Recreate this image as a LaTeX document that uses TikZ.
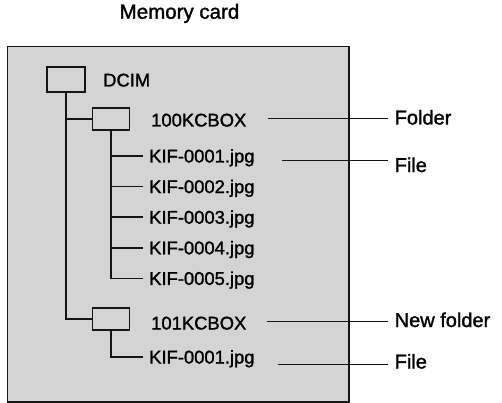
\documentclass[tikz,border=0pt]{standalone}
\usepackage{fontspec}
\setmainfont{Liberation Sans}[FakeBold=1.4]
\usepackage{tikz}
\usetikzlibrary{positioning, calc}
\definecolor{cardgray}{HTML}{D4D4D4}
\definecolor{inkblack}{HTML}{151515}

\begin{document}
\begin{tikzpicture}[x=1pt, y=-1pt,
    folderbox/.style={draw=inkblack, line width=1.7pt, minimum width=37pt, minimum height=22pt, inner sep=0pt},
    dirname/.style={anchor=west, inner sep=0pt, font=\fontsize{18.4}{20}\selectfont, text height=13pt, text depth=0pt},
    filename/.style={anchor=west, inner ysep=0pt, inner xsep=6pt, font=\fontsize{18.4}{20}\selectfont, text height=13pt, text depth=0pt},
    callout/.style={anchor=west, inner ysep=0pt, inner xsep=6.5pt, font=\fontsize{20}{22}\selectfont, text height=14pt, text depth=0pt},
    tree/.style={draw=inkblack, line width=1.7pt},
    pointer/.style={draw=inkblack, line width=0.9pt}]
  \useasboundingbox (0,0) rectangle (502,403);

  % Title and card
  \node[font=\fontsize{20.5}{22}\selectfont, inner sep=0pt, text height=14pt, text depth=0pt] (title) at (179.5,11.7) {Memory card};
  \draw[fill=cardgray, draw=inkblack, line width=1.5pt] (7.5,46.5) rectangle (349,402);

  % Folders
  \node[folderbox, minimum width=38pt, minimum height=25pt] (dcim) at (66,79.5) {};
  \node[dirname] (ndcim) at (103,80) {DCIM};
  \node[folderbox] (f100) at (111,119) {};
  \node[dirname] (n100) at (151,120) {100KCBOX};
  \node[folderbox] (f101) at (111,319) {};
  \node[dirname] (n101) at (151,323) {101KCBOX};

  % Files
  \foreach \i/\y in {1/156, 2/186.6, 3/217.2, 4/247.8, 5/278.4} {
    \node[filename] (k\i) at (143,\y) {KIF-000\i.jpg};
    \draw[tree] (f100.south) |- (k\i.west);
  }
  \node[filename] (kb1) at (143,357) {KIF-0001.jpg};

  % Tree lines
  \draw[tree] (dcim.south) |- (f100.west);
  \draw[tree] (dcim.south) |- (f101.west);
  \draw[tree] (f101.south) |- (kb1.west);

  % Callouts
  \node[callout] (lfolder) at (388,117.5) {Folder};
  \node[callout] (lfile) at (388,165) {File};
  \node[callout] (lnew) at (388,320) {New folder};
  \node[callout] (lfileb) at (388,361.5) {File};
  \coordinate (pfolder) at (268,118);
  \coordinate (pfile) at (282,160);
  \coordinate (pnew) at (267,321);
  \coordinate (pfileb) at (278,364);
  \draw[pointer] (pfolder) -- (pfolder -| lfolder.west);
  \draw[pointer] (pfile) -- (pfile -| lfile.west);
  \draw[pointer] (pnew) -- (pnew -| lnew.west);
  \draw[pointer] (pfileb) -- (pfileb -| lfileb.west);
\end{tikzpicture}
\end{document}
